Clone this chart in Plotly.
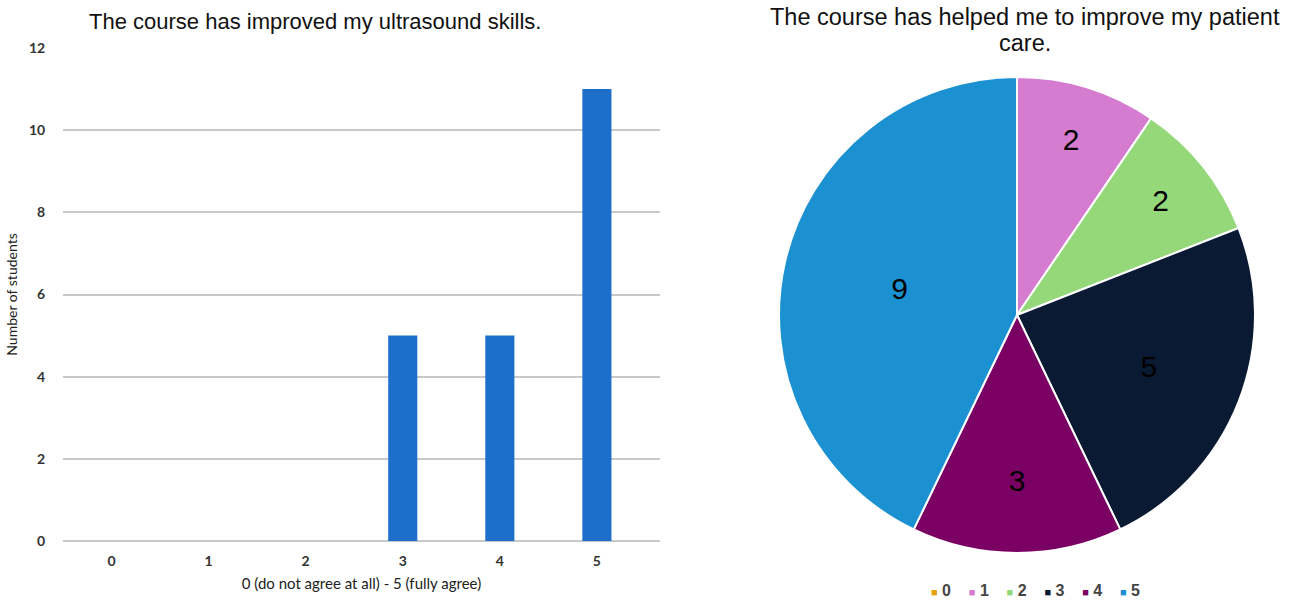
import plotly.graph_objects as go

categories = ["0", "1", "2", "3", "4", "5"]
skills_counts = [0, 0, 0, 5, 5, 11]
care_counts = [0, 2, 2, 5, 3, 9]
pie_colors = ["#E8A000", "#D57CD0", "#95D87A", "#0A1A33", "#7B0064", "#1B91D2"]
bar_color = "#1E6FCC"
y_ticks = [0, 2, 4, 6, 8, 10, 12]

W, H = 1294, 600
fig = go.Figure()

fig.add_trace(go.Bar(
    x=[int(c) for c in categories], y=skills_counts,
    marker=dict(color=bar_color, line=dict(width=0)),
    width=0.3, showlegend=False, xaxis="x", yaxis="y",
))

fig.add_trace(go.Pie(
    labels=categories, values=care_counts,
    marker=dict(colors=pie_colors, line=dict(color="white", width=2)),
    sort=False, direction="clockwise", rotation=0,
    textinfo="value", textposition="inside", insidetextorientation="horizontal",
    textfont=dict(family="Liberation Sans, Arial", size=30, color="black"),
    domain=dict(x=[779 / W, 1255 / W], y=[1 - 553 / H, 1 - 77 / H]),
    showlegend=False,
))

tick_font = dict(family="Lato, Carlito, Liberation Sans", size=14, color="#333333", weight="bold")

# legend built as text from the categories and colours
legend_parts = []
for lab, col in zip(categories, pie_colors):
    legend_parts.append(
        f"<span style='color:{col};font-size:11px'>■</span> <b>{lab}</b>"
    )
legend_text = "&nbsp;&nbsp;&nbsp;&nbsp;".join(legend_parts)

fig.update_layout(
    width=W, height=H,
    margin=dict(l=0, r=0, t=0, b=0),
    paper_bgcolor="white", plot_bgcolor="white",
    font=dict(family="Liberation Sans, Arial", color="#333333"),
    showlegend=False,
    xaxis=dict(
        domain=[63 / W, 660 / W], range=[-0.5, 5.65], automargin=False,
        tickvals=[0, 1, 2, 3, 4, 5], ticktext=categories,
        showgrid=False, zeroline=False, showline=False,
        tickfont=tick_font,
        title=dict(text="0 (do not agree at all) - 5 (fully agree)",
                   font=dict(family="Lato, Carlito, Liberation Sans", size=15, color="#222222"),
                   standoff=10),
        ticks="outside", ticklen=7, tickcolor="rgba(0,0,0,0)",
    ),
    yaxis=dict(
        domain=[1 - 541 / H, 1 - 48 / H], range=[0, 12], automargin=False,
        tickvals=y_ticks, showgrid=True, gridcolor="#C8C8C8", gridwidth=1.5,
        zeroline=True, zerolinecolor="#C8C8C8", zerolinewidth=1.5,
        tickfont=tick_font,
        title=dict(text="Number of students",
                   font=dict(family="Lato, Carlito, Liberation Sans", size=14, color="#222222"),
                   standoff=8),
        ticks="outside", ticklen=14, tickcolor="rgba(0,0,0,0)",
    ),
    annotations=[
        dict(text="The course has improved my ultrasound skills.", x=315 / W, y=1 - 22 / H,
             xref="paper", yref="paper", showarrow=False, xanchor="center", yanchor="middle",
             font=dict(family="Liberation Sans", size=22, color="#111111")),
        dict(text="The course has helped me to improve my patient", x=1025 / W, y=1 - 17 / H,
             xref="paper", yref="paper", showarrow=False, xanchor="center", yanchor="middle",
             font=dict(family="Liberation Sans", size=23.5, color="#111111")),
        dict(text="care.", x=1025 / W, y=1 - 43 / H,
             xref="paper", yref="paper", showarrow=False, xanchor="center", yanchor="middle",
             font=dict(family="Liberation Sans", size=23.5, color="#111111")),
        dict(text=legend_text, x=1035 / W, y=1 - 590 / H,
             xref="paper", yref="paper", showarrow=False, xanchor="center", yanchor="middle",
             font=dict(family="Liberation Sans, Arial", size=16, color="#444444")),
    ],
)

fig.write_html("out.html")
